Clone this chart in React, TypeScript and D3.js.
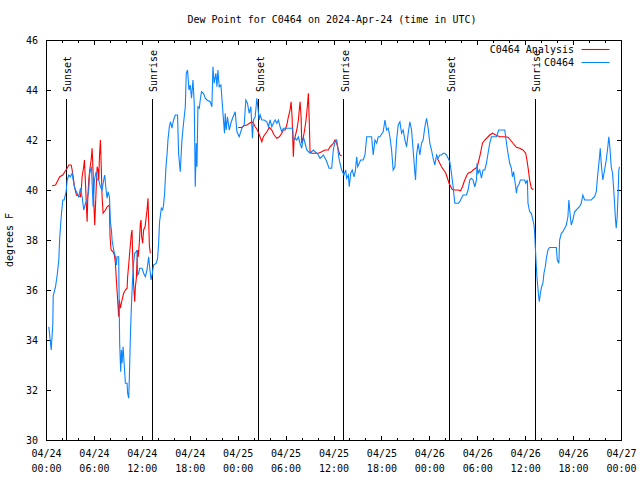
import React from 'react';
import * as d3 from 'd3';

const START = Date.UTC(2024, 3, 24, 0, 0);
const SPAN_HOURS = 72;
const TITLE = 'Dew Point for C0464 on 2024-Apr-24 (time in UTC)';
const Y_LABEL = 'degrees F';
const yDomain = [30, 46];
const yTickValues = [30, 32, 34, 36, 38, 40, 42, 44, 46];

const legendLabels = ['C0464 Analysis', 'C0464'];
const seriesColors = ['#ff0000', '#0a84ff'];

const sunLabels = ['Sunset', 'Sunrise', 'Sunset', 'Sunrise', 'Sunset', 'Sunrise'];
const sunHours = [2.5, 13.25, 26.55, 37.2, 50.5, 61.2];

// C0464 observations (hours since 04/24 00:00 UTC, degrees F)
const blueHours = [
  0.29, 0.59, 0.79, 0.84, 1.13, 1.34, 1.54, 1.66, 1.75, 1.88, 2.04, 2.21, 2.46, 2.59, 2.79, 3.0, 3.21, 3.34, 3.54, 3.84,
  4.04, 4.25, 4.46, 4.66, 4.88, 5.09, 5.29, 5.41, 5.63, 5.71, 5.84, 6.0, 6.21, 6.34, 6.54, 6.75, 6.96, 7.16, 7.29, 7.46,
  7.59, 7.71, 7.88, 8.0, 8.13, 8.21, 8.41, 8.63, 8.75, 8.84, 9.04, 9.08, 9.16, 9.29, 9.38, 9.46, 9.59, 9.75, 9.88, 10.09,
  10.16, 10.29, 10.38, 10.5, 10.63, 10.75, 10.91, 11.04, 11.25, 11.34, 11.41, 11.54, 11.66, 11.96, 12.16, 12.38, 12.59, 12.79, 12.91, 13.09,
  13.25, 13.41, 13.75, 13.91, 14.04, 14.16, 14.38, 14.54, 14.66, 14.79, 14.96, 15.09, 15.21, 15.38, 15.54, 15.71, 15.91, 16.13, 16.41, 16.54,
  16.75, 16.96, 17.16, 17.38, 17.5, 17.66, 17.84, 18.0, 18.16, 18.34, 18.5, 18.63, 18.75, 18.84, 18.96, 19.13, 19.25, 19.41, 19.66, 19.88,
  20.09, 20.5, 20.71, 20.84, 21.0, 21.21, 21.34, 21.46, 21.63, 21.84, 22.04, 22.16, 22.29, 22.38, 22.5, 22.66, 22.88, 23.09, 23.29, 23.63,
  23.84, 24.13, 24.46, 24.75, 24.96, 25.16, 25.38, 25.59, 25.79, 25.91, 26.13, 26.34, 26.46, 26.63, 26.75, 26.96, 27.25, 27.59, 27.79, 28.0,
  28.21, 28.41, 28.63, 28.84, 29.04, 29.25, 29.46, 29.66, 30.84, 30.91, 31.13, 31.34, 31.54, 31.75, 31.96, 32.16, 32.38, 32.59, 33.0, 33.41,
  33.63, 33.84, 34.04, 34.25, 34.46, 34.66, 35.0, 35.16, 35.38, 35.71, 35.91, 36.13, 36.34, 36.46, 36.59, 36.75, 36.96, 37.25, 37.46, 37.59,
  37.79, 37.91, 38.09, 38.29, 38.5, 38.66, 38.84, 38.96, 39.16, 39.34, 39.66, 39.88, 40.09, 40.5, 40.71, 40.91, 41.13, 41.34, 41.54, 41.75,
  42.16, 42.38, 42.59, 42.79, 43.0, 43.21, 43.41, 43.63, 43.84, 44.04, 44.25, 44.46, 44.66, 44.88, 45.09, 45.29, 45.5, 45.71, 45.91, 46.13,
  46.21, 46.34, 46.54, 46.75, 46.96, 47.16, 47.38, 47.59, 47.79, 48.0, 48.21, 48.41, 48.63, 48.84, 49.04, 49.25, 49.46, 49.66, 49.88, 50.09,
  50.29, 50.5, 50.71, 50.91, 51.13, 51.54, 51.75, 51.96, 52.16, 52.59, 52.79, 53.0, 53.21, 53.41, 53.63, 53.84, 53.91, 54.04, 54.25, 54.46,
  54.66, 54.88, 55.09, 55.29, 55.5, 55.71, 55.91, 56.34, 56.63, 56.96, 57.38, 57.5, 57.66, 57.79, 58.0, 58.21, 58.34, 58.5, 58.63, 58.75,
  58.84, 58.96, 59.13, 59.34, 59.59, 59.88, 60.0, 60.21, 60.29, 60.5, 60.71, 60.91, 61.04, 61.13, 61.21, 61.29, 61.41, 61.59, 61.71, 61.84,
  62.0, 62.16, 62.29, 62.46, 62.59, 62.79, 63.0, 63.84, 63.96, 64.16, 64.25, 64.46, 64.66, 64.88, 65.09, 65.29, 65.41, 65.59, 65.71, 65.91,
  66.13, 66.34, 66.54, 66.75, 66.96, 67.16, 67.38, 68.21, 68.41, 68.63, 68.84, 69.04, 69.25, 69.34, 69.46, 69.66, 69.88, 70.09, 70.29, 70.41,
  70.54, 70.71, 70.88, 71.0, 71.13, 71.25, 71.34, 71.46, 71.59, 71.66, 71.75,
];
const blueValues = [
  34.53, 33.6, 34.64, 35.77, 36.13, 36.6, 37.2, 38.13, 38.53, 39.07, 39.6, 39.6, 39.93, 40.4, 40.6, 40.53, 40.67, 40.4, 40.07, 39.87,
  39.73, 40.07, 39.73, 39.2, 39.47, 39.6, 40.0, 40.67, 40.93, 40.27, 39.33, 40.4, 40.73, 40.4, 40.4, 40.13, 40.0, 40.4, 40.6, 40.0,
  39.67, 39.93, 39.73, 38.73, 38.4, 38.0, 37.6, 37.33, 37.0, 37.33, 37.33, 36.13, 33.87, 32.73, 33.6, 33.07, 33.73, 32.93, 32.27, 32.27,
  31.87, 31.67, 32.53, 34.13, 35.33, 36.27, 37.07, 37.47, 37.53, 37.6, 36.6, 36.67, 36.87, 36.87, 36.67, 36.53, 36.8, 37.33, 36.93, 36.4,
  36.67, 37.0, 37.07, 37.27, 37.87, 38.73, 39.27, 39.2, 39.4, 39.87, 40.93, 41.4, 42.0, 42.53, 42.73, 42.47, 42.8, 43.0, 43.0, 41.47,
  40.73, 42.0, 42.67, 43.33, 44.67, 44.8, 44.0, 44.2, 43.67, 44.4, 43.47, 40.13, 41.87, 40.93, 43.33, 43.27, 43.6, 43.93, 43.87, 43.67,
  43.6, 43.53, 43.33, 44.93, 44.27, 44.67, 44.13, 44.8, 44.13, 44.2, 43.33, 42.8, 42.27, 43.07, 42.4, 42.93, 42.4, 42.67, 42.87, 43.13,
  42.33, 42.13, 42.47, 42.6, 43.6, 43.47, 43.07, 43.33, 42.07, 42.8, 42.93, 43.67, 43.33, 42.8, 43.0, 42.8, 42.8, 42.73, 42.53, 42.8,
  42.53, 42.67, 42.8, 42.67, 42.8, 42.53, 42.33, 42.47, 42.47, 42.0, 42.07, 42.0, 42.13, 41.87, 41.67, 42.13, 41.87, 41.6, 41.47, 41.6,
  41.53, 41.47, 41.4, 41.27, 41.33, 41.4, 41.2, 41.07, 40.87, 40.87, 41.6, 41.93, 42.0, 41.73, 41.33, 41.07, 40.8, 40.6, 40.8, 40.47,
  40.6, 40.13, 40.67, 40.8, 40.53, 40.73, 41.33, 40.93, 41.07, 41.2, 41.2, 41.4, 42.13, 42.13, 42.13, 41.4, 42.0, 41.87, 42.13, 42.13,
  42.33, 42.8, 42.4, 42.47, 42.13, 41.6, 40.8, 40.93, 42.0, 42.6, 42.73, 42.27, 42.4, 42.0, 41.73, 42.27, 42.73, 42.4, 41.6, 40.67,
  40.4, 41.4, 41.87, 41.4, 41.87, 42.0, 42.53, 42.87, 42.47, 41.87, 41.6, 41.27, 41.0, 41.4, 41.27, 41.4, 41.4, 41.47, 41.47, 41.4,
  41.27, 41.13, 40.67, 40.13, 39.47, 39.47, 39.53, 39.67, 39.8, 39.8, 40.0, 40.4, 40.47, 40.4, 40.13, 40.4, 41.07, 40.67, 40.8, 40.47,
  40.8, 40.8, 41.07, 41.47, 41.87, 42.13, 42.13, 42.13, 42.4, 42.4, 42.4, 42.13, 41.73, 41.47, 41.07, 40.87, 40.53, 40.73, 40.4, 40.13,
  39.87, 40.13, 40.2, 40.4, 40.4, 40.4, 40.27, 40.4, 39.47, 39.13, 39.07, 38.8, 38.6, 38.27, 37.73, 37.2, 36.53, 35.87, 35.53, 35.87,
  36.13, 36.27, 36.67, 36.93, 37.27, 37.6, 37.7, 37.7, 37.2, 37.07, 38.0, 38.27, 38.33, 38.47, 38.6, 38.93, 39.6, 38.93, 38.6, 38.8,
  39.13, 39.2, 39.27, 39.33, 39.47, 39.8, 39.6, 39.6, 39.67, 39.73, 39.93, 40.67, 41.33, 41.67, 41.07, 40.4, 40.8, 41.2, 41.73, 42.13,
  41.73, 40.93, 40.67, 40.13, 39.47, 38.8, 38.47, 38.93, 40.0, 40.8, 40.93,
];

// C0464 Analysis (null = gap)
const redHours = [
  0.71, 1.13, 1.34, 1.66, 2.04, 2.29, 2.59, 2.79, 3.09, 3.21, 3.34, 3.5, 3.75, 4.25, 4.38, 4.46, 4.66, 4.75, 4.88, 5.0,
  5.09, 5.16, 5.29, 5.41, 5.59, 5.71, 5.84, 5.91, 6.04, 6.21, 6.34, 6.46, 6.54, 6.63, 6.75, 6.88, 6.96, 7.09, 7.38, 7.59,
  7.88, 7.96, 8.09, 8.34, 8.5, 8.63, 8.75, 8.91, 9.04, 9.13, 9.25, 9.46, 9.66, 9.88, 10.09, 10.16, 10.29, 10.41, 10.5, 10.63,
  10.71, 10.79, 10.91, 11.04, 11.13, 11.25, 11.34, 11.41, 11.5, 11.63, 11.75, 11.84, 11.91, 12.04, 12.16, 12.34, 12.59, 12.71, 12.79, 12.88,
  13.0, 18.0,
  24.0, 24.46, 24.66, 25.09, 25.71, 25.91, 26.13, 26.41, 26.66, 26.96, 27.16, 27.59, 27.91, 28.21, 28.5, 28.84, 29.16, 29.46, 29.66, 29.88,
  30.09, 30.29, 30.5, 30.63, 30.75, 30.84, 30.91, 31.0, 31.13, 31.34, 31.54, 31.75, 31.88, 31.96, 32.09, 32.25, 32.38, 32.5, 32.66, 32.79,
  32.91, 33.0, 33.21, 33.63, 34.04, 34.46, 34.88, 35.29, 35.5, 35.71, 35.91, 36.13, 36.34, 36.54, 36.75, 36.96, 43.0,
  48.88, 49.04, 49.46, 50.0, 50.41, 50.79, 51.13, 51.54, 51.84, 52.09, 52.29, 52.59, 52.79, 53.21, 53.41, 53.75, 53.96, 54.25, 54.59, 54.88,
  55.29, 55.5, 55.84, 56.25, 56.75, 57.38, 57.79, 58.09, 58.41, 58.84, 59.25, 59.66, 60.0, 60.16, 60.34, 60.5, 60.71, 60.84, 61.0,
];
const redValues = [
  40.17, 40.2, 40.33, 40.53, 40.6, 40.73, 40.87, 41.0, 41.0, 40.8, 40.53, 40.13, 39.8, 39.73, 40.13, 40.53, 40.93, 41.2, 40.27, 39.33,
  38.73, 39.6, 40.4, 40.8, 41.2, 41.67, 40.67, 39.6, 38.6, 40.0, 40.93, 40.8, 40.4, 41.33, 42.0, 40.67, 39.73, 39.07, 39.2, 39.33,
  39.4, 38.13, 37.6, 37.53, 37.4, 37.07, 36.4, 35.6, 34.93, 35.6, 35.27, 35.6, 35.87, 36.0, 36.07, 36.53, 37.0, 37.47, 37.8, 38.27,
  38.4, 37.33, 36.2, 35.53, 36.13, 36.47, 37.2, 37.6, 37.33, 37.93, 38.67, 38.8, 38.13, 37.87, 38.4, 38.53, 39.2, 39.67, 38.8, 37.8,
  37.47, null,
  42.5, 42.5, 42.56, 42.6, 42.73, 42.67, 42.53, 42.4, 42.2, 41.93, 42.13, 42.33, 42.5, 42.4, 42.2, 42.07, 42.13, 42.27, 42.4, 42.4,
  42.6, 42.93, 43.2, 43.53, 42.93, 42.0, 41.33, 42.0, 42.13, 42.4, 42.8, 43.53, 42.93, 41.87, 42.0, 42.27, 42.53, 42.8, 43.33, 43.87,
  42.67, 41.53, 41.47, 41.47, 41.47, 41.53, 41.6, 41.6, 41.73, 41.8, 41.87, 42.0, 41.87, 41.6, 41.4, 41.36, null,
  41.27, 41.2, 40.93, 40.67, 40.27, 40.03, 40.0, 40.0, 39.97, 40.13, 40.33, 40.56, 40.67, 40.73, 40.8, 40.87, 40.96, 41.33, 41.87, 42.0,
  42.13, 42.2, 42.27, 42.2, 42.13, 42.13, 42.11, 42.0, 41.87, 41.71, 41.67, 41.6, 41.47, 41.2, 40.8, 40.4, 40.07, 40.03, 40.03,
];

const W = 640;
const H = 480;
const M = { left: 46.5, right: 621.5, top: 40, bottom: 440 };
const FONT = '"DejaVu Sans Mono", "Liberation Mono", monospace';

const toDate = (h: number) => new Date(START + h * 3600e3);

export default function App() {
  const x = d3.scaleUtc().domain([toDate(0), toDate(SPAN_HOURS)]).range([M.left, M.right]);
  const y = d3.scaleLinear().domain(yDomain).range([M.bottom, M.top]);

  type P = { t: Date; v: number | null };
  const blue: P[] = blueHours.map((h, i) => ({ t: toDate(h), v: blueValues[i] }));
  const red: P[] = redHours.map((h, i) => ({ t: toDate(h), v: redValues[i] }));

  const line = d3
    .line<P>()
    .defined((d) => d.v !== null)
    .x((d) => x(d.t))
    .y((d) => y(d.v as number));

  const majorTicks = x.ticks(d3.utcHour.every(6) as d3.TimeInterval);
  const minorTicks = x.ticks(d3.utcHour.every(2) as d3.TimeInterval).filter((d) => d.getUTCHours() % 6 !== 0);
  const fmtDate = d3.utcFormat('%m/%d');
  const fmtTime = d3.utcFormat('%H:%M');

  const major = 4.5;
  const minor = 2.5;

  return (
    <svg
      width={W}
      height={H}
      viewBox={`0 0 ${W} ${H}`}
      style={{ position: 'absolute', left: 0, top: 0, background: '#fff' }}
      fontFamily={FONT}
      fontSize={10}
    >
      <rect x={0} y={0} width={W} height={H} fill="#fff" />
      <text x={W / 2 + 12} y={23} textAnchor="middle" fill="#000">
        {TITLE}
      </text>

      {/* y ticks & labels */}
      {yTickValues.map((v) => (
        <g key={'y' + v}>
          <line x1={M.left} x2={M.left + major} y1={y(v)} y2={y(v)} stroke="#000" shapeRendering="crispEdges" />
          <line x1={M.right} x2={M.right - major} y1={y(v)} y2={y(v)} stroke="#000" shapeRendering="crispEdges" />
          <text x={38} y={y(v) + 3.5} textAnchor="end" fill="#000">
            {v}
          </text>
        </g>
      ))}

      {/* x ticks */}
      {majorTicks.map((d, i) => (
        <g key={'xm' + i}>
          <line x1={x(d)} x2={x(d)} y1={M.bottom} y2={M.bottom - major} stroke="#000" shapeRendering="crispEdges" />
          <line x1={x(d)} x2={x(d)} y1={M.top} y2={M.top + major} stroke="#000" shapeRendering="crispEdges" />
          <text x={x(d)} y={457} textAnchor="middle" fill="#000">
            {fmtDate(d)}
          </text>
          <text x={x(d)} y={472} textAnchor="middle" fill="#000">
            {fmtTime(d)}
          </text>
        </g>
      ))}
      {minorTicks.map((d, i) => (
        <g key={'xn' + i}>
          <line x1={x(d)} x2={x(d)} y1={M.bottom} y2={M.bottom - minor} stroke="#000" shapeRendering="crispEdges" />
          <line x1={x(d)} x2={x(d)} y1={M.top} y2={M.top + minor} stroke="#000" shapeRendering="crispEdges" />
        </g>
      ))}

      {/* y axis label */}
      <text transform={`translate(13, ${(M.top + M.bottom) / 2}) rotate(-90)`} textAnchor="middle" fill="#000">
        {Y_LABEL}
      </text>

      {/* sunrise / sunset markers */}
      {sunHours.map((h, i) => (
        <g key={'sun' + i}>
          <line
            x1={x(toDate(h))}
            x2={x(toDate(h))}
            y1={99}
            y2={M.bottom}
            stroke="#000"
            shapeRendering="crispEdges"
          />
          <text transform={`translate(${x(toDate(h)) + 5}, 92) rotate(-90)`} textAnchor="start" fill="#000">
            {sunLabels[i]}
          </text>
        </g>
      ))}

      {/* series */}
      <path d={line(red) || ''} fill="none" stroke={seriesColors[0]} strokeWidth={1.1} />
      <path d={line(blue) || ''} fill="none" stroke={seriesColors[1]} strokeWidth={1.1} />

      {/* legend */}
      {legendLabels.map((lab, i) => (
        <g key={'lg' + i}>
          <text x={574} y={49.5 + i * 13 + 3.5} textAnchor="end" fill="#000">
            {lab}
          </text>
          <line x1={581.5} x2={609.5} y1={49.5 + i * 13} y2={49.5 + i * 13} stroke={seriesColors[i]} strokeWidth={1.1} />
        </g>
      ))}

      {/* frame */}
      <rect
        x={M.left}
        y={M.top}
        width={M.right - M.left}
        height={M.bottom - M.top}
        fill="none"
        stroke="#000"
        shapeRendering="crispEdges"
      />
    </svg>
  );
}
